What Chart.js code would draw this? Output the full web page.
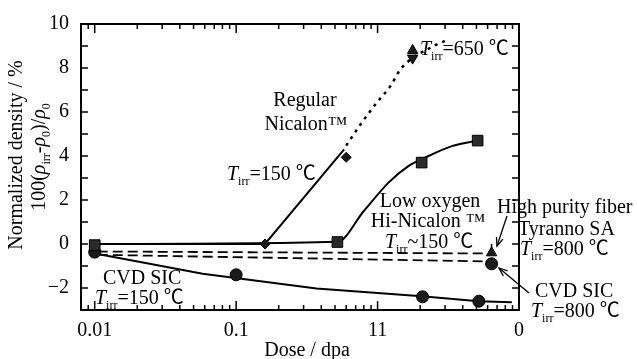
<!DOCTYPE html>
<html><head><meta charset="utf-8">
<script src="https://cdn.jsdelivr.net/npm/chart.js@4.4.1/dist/chart.umd.min.js"></script>
<style>html,body{margin:0;padding:0;background:#fff;}canvas{display:block}</style>
</head><body>
<canvas id="c" width="637" height="359"></canvas>
<script>
// ---- axis ticks ----
const xTickValues = [0.01, 0.1, 1, 10];
const xTickLabels = ['0.01', '0.1', '11', '0'];
const yTickValues = [-2, 0, 2, 4, 6, 8, 10];
const yTickLabels = ['\u22122', '0', '2', '4', '6', '8', '10'];

// ---- Regular Nicalon (150 °C solid, 650 °C dotted) ----
const nicSolidX = [0.01, 0.16, 0.58];
const nicSolidY = [0, 0, 4.3];
const nicDotX = [0.6, 0.77, 0.98, 1.24, 1.46, 2.49, 3.2];
const nicDotY = [4.47, 5.5, 6.4, 7.2, 7.96, 9.0, 9.3];
const nicMarkX = [0.16, 0.6];
const nicMarkY = [0, 3.94];
const nic650UpX = [1.77];
const nic650UpY = [8.8];
const nic650DownX = [1.77];
const nic650DownY = [8.45];

// ---- Low oxygen Hi-Nicalon ----
const hiNicCurveX = [0.01, 0.52, 0.8, 1.2, 1.66, 2.05, 3.35, 5.1];
const hiNicCurveY = [0, 0.1, 1.5, 2.8, 3.55, 3.85, 4.45, 4.7];
const hiNicMarkX = [0.01, 0.52, 2.05, 5.1];
const hiNicMarkY = [-0.05, 0.09, 3.7, 4.7];

// ---- CVD SiC 150 °C ----
const sicLineX = [0.0105, 0.058, 0.37, 2.05, 5.2, 8.9];
const sicLineY = [-0.45, -1.35, -2.02, -2.38, -2.6, -2.65];
const sicMarkX = [0.01, 0.1, 2.08, 5.2];
const sicMarkY = [-0.37, -1.4, -2.4, -2.6];

// ---- dashed references (800 °C) ----
const dashUpX = [0.0105, 5.8];
const dashUpY = [-0.34, -0.43];
const dashLowX = [0.0105, 5.8];
const dashLowY = [-0.49, -0.79];

// ---- 800 °C points ----
const tyrannoX = [6.4];
const tyrannoY = [-0.4];
const tyrannoErrX = [6.4, 6.4];
const tyrannoErrY = [0.0, -0.4];
const sic800X = [6.4];
const sic800Y = [-0.9];

const FONT = "'Liberation Serif','Noto Sans CJK SC','Times New Roman',serif";
const zip = (xs, ys) => xs.map((x, i) => ({x: x, y: ys[i]}));

function lineDs(xs, ys, extra) {
  return Object.assign({
    type: 'line', data: zip(xs, ys), borderColor: '#000', borderWidth: 2,
    pointRadius: 0, fill: false, tension: 0, order: 5
  }, extra || {});
}
function markDs(xs, ys, style, r, extra) {
  return Object.assign({
    type: 'scatter', data: zip(xs, ys), pointStyle: style, pointRadius: r,
    pointBackgroundColor: '#1a1a1a', pointBorderColor: '#000', pointBorderWidth: 1,
    showLine: false, order: 1
  }, extra || {});
}

function drawRich(ctx, segs, x, y, align, size) {
  size = size || 20;
  const fontFor = s => s.k === 'i' ? `italic ${size}px ${FONT}` : (s.k === 's' ? `${Math.round(size*0.62)}px ${FONT}` : `${size}px ${FONT}`);
  let w = 0;
  segs.forEach(s => { ctx.font = fontFor(s); w += ctx.measureText(s.t).width; });
  let cx = align === 'center' ? x - w / 2 : x;
  ctx.textAlign = 'left';
  ctx.textBaseline = 'alphabetic';
  segs.forEach(s => {
    ctx.font = fontFor(s);
    ctx.fillText(s.t, cx, s.k === 's' ? y + 5 : y);
    cx += ctx.measureText(s.t).width;
  });
}
const tirr = (rest) => [{t: 'T', k: 'i'}, {t: 'irr', k: 's'}, {t: rest, k: 'n'}];

function arrow(ctx, x1, y1, x2, y2) {
  ctx.beginPath(); ctx.moveTo(x1, y1); ctx.lineTo(x2, y2); ctx.stroke();
  const a = Math.atan2(y2 - y1, x2 - x1), L = 9, W = 0.38;
  ctx.beginPath();
  ctx.moveTo(x2 - L * Math.cos(a - W), y2 - L * Math.sin(a - W));
  ctx.lineTo(x2, y2);
  ctx.lineTo(x2 - L * Math.cos(a + W), y2 - L * Math.sin(a + W));
  ctx.stroke();
}

const decor = {
  id: 'decor',
  afterDraw(chart) {
    const ctx = chart.ctx, a = chart.chartArea;
    const xs = chart.scales.x, ys = chart.scales.y;
    ctx.save();
    ctx.strokeStyle = '#000'; ctx.fillStyle = '#000';
    // frame
    ctx.lineWidth = 2;
    ctx.strokeRect(a.left, a.top, a.right - a.left, a.bottom - a.top);
    // x minor/major ticks (inside, top and bottom)
    ctx.lineWidth = 1.5;
    for (let d = -3; d <= 1; d++) {
      for (let k = 1; k <= 9; k++) {
        const v = k * Math.pow(10, d);
        if (v < xs.min || v > xs.max) continue;
        const px = xs.getPixelForValue(v);
        const L = k === 1 ? 9 : 5;
        ctx.beginPath();
        ctx.moveTo(px, a.bottom); ctx.lineTo(px, a.bottom - L);
        ctx.moveTo(px, a.top); ctx.lineTo(px, a.top + L);
        ctx.stroke();
      }
    }
    // y ticks
    for (let v = Math.ceil(ys.min); v <= ys.max; v++) {
      const py = ys.getPixelForValue(v);
      const L = 7;
      ctx.beginPath();
      ctx.moveTo(a.left, py); ctx.lineTo(a.left + L, py);
      ctx.moveTo(a.right, py); ctx.lineTo(a.right - L, py);
      ctx.stroke();
    }
    // axis titles
    ctx.save();
    ctx.translate(15, 155); ctx.rotate(-Math.PI / 2);
    drawRich(ctx, [{t: 'Normalized density / %', k: 'n'}], 0, 7, 'center');
    ctx.restore();
    ctx.save();
    ctx.translate(38, 157); ctx.rotate(-Math.PI / 2);
    drawRich(ctx, [{t: '100(', k: 'n'}, {t: '\u03C1', k: 'i'}, {t: 'irr', k: 's'}, {t: '-', k: 'n'},
      {t: '\u03C1', k: 'i'}, {t: '0', k: 's'}, {t: ')/', k: 'n'}, {t: '\u03C1', k: 'i'}, {t: '0', k: 's'}], 0, 7, 'center');
    ctx.restore();
    drawRich(ctx, [{t: 'Dose / dpa', k: 'n'}], 307, 356, 'center');
    // annotations
    drawRich(ctx, [{t: 'Regular', k: 'n'}], 305, 106, 'center');
    drawRich(ctx, [{t: 'Nicalon\u2122', k: 'n'}], 306, 130, 'center');
    drawRich(ctx, tirr('=150 \u2103'), 227, 180, 'left');
    drawRich(ctx, tirr('=650 \u2103'), 420, 55, 'left');
    drawRich(ctx, [{t: 'Low oxygen', k: 'n'}], 430, 207, 'center');
    drawRich(ctx, [{t: 'Hi-Nicalon \u2122', k: 'n'}], 428, 227, 'center');
    drawRich(ctx, tirr('~150 \u2103'), 385, 248, 'left');
    drawRich(ctx, [{t: 'High purity fiber', k: 'n'}], 497, 213, 'left');
    drawRich(ctx, [{t: 'Tyranno SA', k: 'n'}], 518, 235, 'left');
    drawRich(ctx, tirr('=800 \u2103'), 520, 255, 'left');
    drawRich(ctx, [{t: 'CVD SIC', k: 'n'}], 535, 297, 'left');
    drawRich(ctx, tirr('=800 \u2103'), 531, 317, 'left');
    drawRich(ctx, [{t: 'CVD SIC', k: 'n'}], 103, 284, 'left');
    drawRich(ctx, tirr('=150 \u2103'), 95, 304, 'left');
    // arrows
    ctx.lineWidth = 1.3;
    arrow(ctx, 507, 216, 497, 246);
    arrow(ctx, 529, 293, 499, 268);
    ctx.restore();
  }
};

new Chart(document.getElementById('c'), {
  data: {
    datasets: [
      lineDs(nicSolidX, nicSolidY),
      lineDs(nicDotX, nicDotY, {borderDash: [3, 5], borderWidth: 2.5, cubicInterpolationMode: 'monotone'}),
      lineDs(hiNicCurveX, hiNicCurveY, {cubicInterpolationMode: 'monotone'}),
      lineDs(sicLineX, sicLineY),
      lineDs(dashUpX, dashUpY, {borderDash: [10, 5], borderWidth: 1.8}),
      lineDs(dashLowX, dashLowY, {borderDash: [10, 5], borderWidth: 1.8}),
      lineDs(tyrannoErrX, tyrannoErrY, {borderWidth: 1.5}),
      markDs(hiNicMarkX, hiNicMarkY, 'rect', 7.5, {pointBackgroundColor: '#2a2a2a'}),
      markDs(nicMarkX, nicMarkY, 'rectRot', 5),
      markDs(sicMarkX, sicMarkY, 'circle', 6),
      markDs(nic650UpX, nic650UpY, 'triangle', 6),
      markDs(nic650DownX, nic650DownY, 'triangle', 6, {rotation: 180}),
      markDs(tyrannoX, tyrannoY, 'triangle', 6),
      markDs(sic800X, sic800Y, 'circle', 6)
    ]
  },
  options: {
    responsive: false,
    animation: false,
    layout: {padding: {top: 20, right: 118, left: 0, bottom: 0}},
    plugins: {legend: {display: false}, tooltip: {enabled: false}, title: {display: false}},
    scales: {
      x: {
        type: 'logarithmic', min: 0.008, max: 10,
        grid: {display: false, drawTicks: false},
        border: {display: false},
        afterFit: s => { s.height = 49; },
        afterBuildTicks: s => { s.ticks = xTickValues.map(v => ({value: v})); },
        ticks: {
          color: '#000', padding: 9, maxRotation: 0, autoSkip: false,
          font: {family: FONT, size: 20},
          callback: (v) => { const i = xTickValues.indexOf(v); return i >= 0 ? xTickLabels[i] : ''; }
        }
      },
      y: {
        type: 'linear', min: -3, max: 10,
        grid: {display: false, drawTicks: false},
        border: {display: false},
        afterFit: s => { s.width = 81; },
        afterBuildTicks: s => { s.ticks = yTickValues.map(v => ({value: v})); },
        ticks: {
          color: '#000', padding: 12, autoSkip: false,
          font: {family: FONT, size: 20},
          callback: (v) => { const i = yTickValues.indexOf(v); return i >= 0 ? yTickLabels[i] : ''; }
        }
      }
    }
  },
  plugins: [decor]
});
</script>
</body></html>
